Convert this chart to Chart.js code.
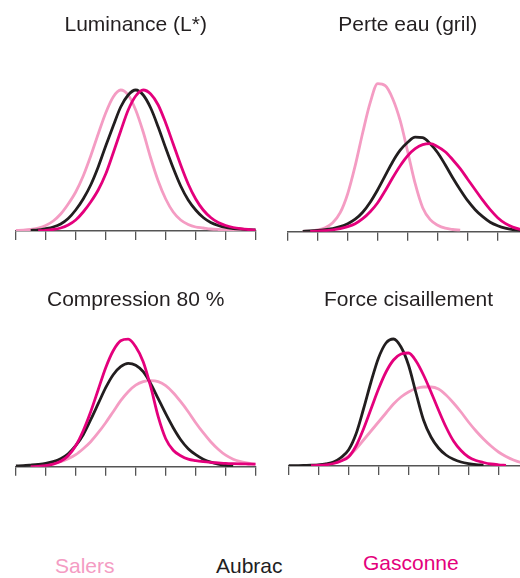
<!DOCTYPE html>
<html>
<head>
<meta charset="utf-8">
<script src="https://cdn.jsdelivr.net/npm/chart.js@4.4.1/dist/chart.umd.min.js"></script>
<style>
  html, body { margin: 0; padding: 0; background: #fff; overflow: hidden; width: 520px; height: 578px; }
  canvas { position: absolute; }
  .leg { position: absolute; font: 21px 'Liberation Sans', Arial, sans-serif; line-height: 21px; white-space: nowrap; }
</style>
</head>
<body>
<canvas id="lum" width="272" height="250" style="left:0px;top:0px"></canvas>
<canvas id="eau" width="272" height="250" style="left:272px;top:0px"></canvas>
<canvas id="comp" width="272" height="211" style="left:0px;top:275px"></canvas>
<canvas id="force" width="272" height="211" style="left:272px;top:275px"></canvas>
<div class="leg" id="legSalers" style="left:55px;top:555px"></div>
<div class="leg" id="legAubrac" style="left:216px;top:555px"></div>
<div class="leg" id="legGasconne" style="left:363px;top:552px"></div>

<script>
// x grid shared by all panels (axis goes 0..8, tick every 1)
const xGrid = [0, 0.25, 0.5, 0.75, 1, 1.25, 1.5, 1.75, 2, 2.25, 2.5, 2.75, 3, 3.25, 3.5, 3.75,
               4, 4.25, 4.5, 4.75, 5, 5.25, 5.5, 5.75, 6, 6.25, 6.5, 6.75, 7, 7.25, 7.5, 7.75, 8];

const breeds = ['Salers', 'Aubrac', 'Gasconne'];
const titles = ['Luminance (L*)', 'Perte eau (gril)', 'Compression 80 %', 'Force cisaillement'];

// densities (null = curve not drawn there)
const salersLum = [0.5, 0.8, 1.5, 3, 5.5, 10, 17, 27, 39, 55, 75, 97, 118, 134, 141, 136, 121,
                   99, 73, 50, 32, 19, 11, 6.5, 4, 3, 2, 1.5, 1.2, 1, 0.8, 0.6, 0.5];
const aubracLum = [null, null, 0.7, 1, 2.3, 4, 7, 12.5, 21, 32, 46, 64, 85, 105, 124, 136, 141,
                   136, 123, 104, 83, 63, 45, 31, 21, 13.5, 8.5, 5.5, 3.5, 2.5, 1.8, 1.3, 1];
const gasconneLum = [null, null, null, 0.3, 0.7, 1.5, 3, 6, 11, 19, 29, 41, 57, 78, 100, 121, 135,
                     141, 137, 126, 108, 87, 66, 47, 32, 21, 13.5, 8.5, 5.5, 3.5, 2.3, 1.5, 1];

const salersEau = [null, null, 0.3, 0.8, 1.8, 4, 9, 19, 38, 66, 99, 129, 148, 146, 133, 111, 80,
                   48, 24, 12, 6.5, 3.5, 2.2, 1.5, null, null, null, null, null, null, null, null, null];
const aubracEau = [null, null, 0.4, 0.7, 1.2, 2, 3, 5, 8, 12.5, 19.5, 29.5, 42, 56, 70, 81.5, 89.5,
                   94.5, 94, 88, 79, 67, 54, 42, 31, 22, 15, 9.5, 6, 3.5, 2, 1.2, 0.7];
const gasconneEau = [null, null, null, 0.3, 0.5, 1, 1.8, 3, 5, 8, 13, 20, 29, 41, 54, 66, 76,
                     83, 87, 88, 85, 80, 72, 63, 52.5, 42, 31.5, 22, 14, 8.3, 4.6, 2.4, 1.2];

const salersComp = [null, null, 0.6, 1.2, 2, 3.2, 5, 8, 12, 18, 25, 34, 44, 55, 66, 75, 81.5,
                    85, 86, 85, 81, 74, 65, 55, 44, 34, 25, 17.5, 11.5, 7.5, 5, 3.5, 2.6];
const aubracComp = [0.7, 1, 1.6, 2.3, 3.3, 5, 8, 13, 21, 32, 47, 63, 79, 92, 100, 103.3, 101.5,
                    95, 83, 68, 53, 39, 27, 18, 12, 7.5, 4.5, 2.5, 1.3, 0.7, null, null, null];
const gasconneComp = [null, null, 0, 0.3, 1, 2.5, 5.5, 11, 21, 36, 55, 77, 99, 116, 126, 127.5, 120,
                      105, 80, 50, 28, 16.5, 11, 7.5, 6, 5, 4.3, 3.8, 3.3, 3, 2.8, 2.7, 2.6];

const salersForce = [null, null, 0.3, 0.5, 1, 1.8, 3, 5.5, 10, 17, 26, 35, 44, 53, 62, 69, 74,
                     77.5, 79, 79, 77, 71, 63, 54, 44, 35, 27, 20, 14, 9.5, 6, 3.5, 2];
const aubracForce = [0.3, 0.4, 0.5, 0.8, 1.2, 2.2, 4, 8.5, 16, 32, 57, 84, 108, 123, 127, 119, 101,
                     73, 46, 29, 18, 11, 6.8, 4, 2.4, 1.4, 0.8, null, null, null, null, null, null];
const gasconneForce = [null, null, null, 0.3, 0.6, 1.2, 2.5, 5, 9, 20, 37, 57, 77, 94, 106, 112, 113,
                       105, 91, 74, 56, 39, 25, 15.5, 9, 5.5, 3.5, 2, 1.2, 0.7, null, null, null];

const FONT = "'Liberation Sans', Arial, Helvetica, sans-serif";
const colors = { Salers: '#f49cc3', Aubrac: '#221e1f', Gasconne: '#e4007c' };
const axisColor = '#555555';

function toPoints(ys) {
    return xGrid.map((x, i) => ys[i] == null ? null : { x: x, y: ys[i] }).filter(p => p);
}

function makePanel(id, title, salers, aubrac, gasconne, yMax, pad, titleBottom) {
    const series = { Salers: salers, Aubrac: aubrac, Gasconne: gasconne };
    // Gasconne first so it ends on top, Salers underneath
    const order = ['Gasconne', 'Aubrac', 'Salers'];
    new Chart(document.getElementById(id), {
        type: 'line',
        data: {
            datasets: order.map(name => ({
                label: name,
                data: toPoints(series[name]),
                borderColor: colors[name],
                borderWidth: 2.8,
                pointRadius: 0,
                fill: false,
                cubicInterpolationMode: 'monotone'
            }))
        },
        options: {
            responsive: false,
            animation: false,
            layout: { padding: pad },
            plugins: {
                legend: { display: false },
                tooltip: { enabled: false },
                title: {
                    display: true,
                    text: title,
                    color: '#231f20',
                    font: { family: FONT, size: 21, weight: 'normal' },
                    padding: { top: 13, bottom: titleBottom }
                }
            },
            scales: {
                x: {
                    type: 'linear',
                    min: 0,
                    max: 8,
                    ticks: { display: false, stepSize: 1 },
                    grid: { drawOnChartArea: false, tickLength: 9, color: axisColor, lineWidth: 1.3 },
                    border: { color: axisColor, width: 1.5 }
                },
                y: { display: false, min: 0, max: yMax }
            }
        }
    });
}

makePanel('lum', titles[0], salersLum, aubracLum, gasconneLum, 160,
          { left: 15.7, right: 16.3, top: 0, bottom: 10 }, 32.8);
makePanel('eau', titles[1], salersEau, aubracEau, gasconneEau, 160,
          { left: 15.7, right: 16.3, top: 0, bottom: 9.3 }, 33.5);
makePanel('comp', titles[2], salersComp, aubracComp, gasconneComp, 150,
          { left: 15.7, right: 16.3, top: 0, bottom: 10.3 }, 3.5);
makePanel('force', titles[3], salersForce, aubracForce, gasconneForce, 150,
          { left: 16.5, right: 15.5, top: 0, bottom: 11 }, 2.8);

// breed legend along the bottom
breeds.forEach(name => {
    const el = document.getElementById('leg' + name);
    el.textContent = name;
    el.style.color = colors[name];
});
</script>
</body>
</html>
